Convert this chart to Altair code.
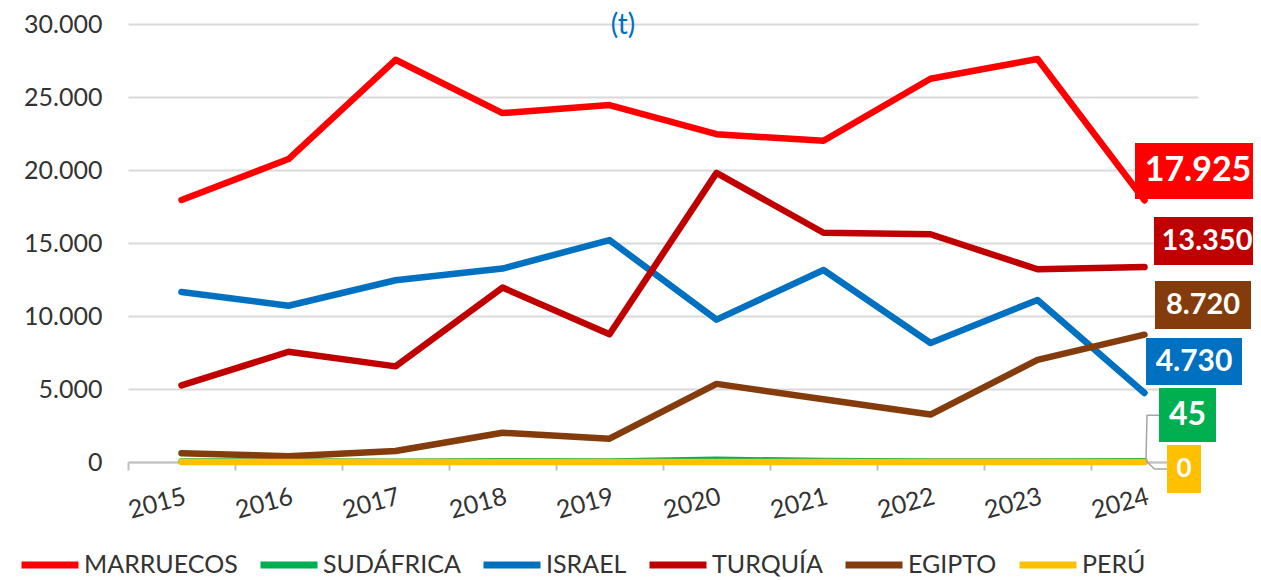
import altair as alt
import pandas as pd

years = [2015, 2016, 2017, 2018, 2019, 2020, 2021, 2022, 2023, 2024]
series = ["MARRUECOS", "SUDÁFRICA", "ISRAEL", "TURQUÍA", "EGIPTO", "PERÚ"]
colors = ["#FF0000", "#00B050", "#0070C0", "#C00000", "#843C0C", "#FFC000"]

marruecos = [17950, 20750, 27550, 23900, 24450, 22450, 22000, 26250, 27600, 17925]
sudafrica = [40, 30, 20, 50, 40, 150, 60, 40, 30, 45]
israel = [11650, 10700, 12450, 13250, 15200, 9750, 13150, 8150, 11100, 4730]
turquia = [5250, 7550, 6550, 11950, 8750, 19800, 15700, 15600, 13200, 13350]
egipto = [600, 400, 750, 2000, 1600, 5350, 4300, 3250, 7000, 8720]
peru = [0, 0, 0, 0, 0, 0, 0, 0, 0, 0]

y_ticks = [0, 5000, 10000, 15000, 20000, 25000, 30000]
unit_text = "(t)"

values = [marruecos, sudafrica, israel, turquia, egipto, peru]
rows = []
for s, vals in zip(series, values):
    for yr, v in zip(years, vals):
        rows.append({"year": yr, "series": s, "value": v})
df = pd.DataFrame(rows)

FONT = "Lato"
W, H = 1070, 438

x_enc = alt.X(
    "year:O",
    bandPosition=0.5,
    scale=alt.Scale(type="band", paddingInner=0, paddingOuter=0),
    axis=alt.Axis(
        title=None, tickBand="extent", domainColor="#bfbfbf", domainWidth=2,
        tickColor="#bfbfbf", tickWidth=2, tickSize=8, labelAngle=345,
        labelAlign="right", labelBaseline="top", labelPadding=14,
        labelFontSize=25, labelFont=FONT, labelColor="#333333", grid=False,
    ),
)
y_enc = alt.Y(
    "value:Q",
    scale=alt.Scale(domain=[0, 30000], nice=False, zero=True),
    axis=alt.Axis(
        title=None, values=y_ticks, domain=False, ticks=False, tickSize=0,
        labelPadding=26, labelFontSize=25, labelFont=FONT, labelColor="#333333",
        labelExpr="replace(format(datum.value, ','), ',', '.')",
        grid=True, gridColor="#d9d9d9", gridWidth=2,
    ),
)

lines = alt.Chart(df).mark_line(strokeWidth=6.5, strokeCap="round", strokeJoin="round").encode(
    x=x_enc,
    y=y_enc,
    color=alt.Color(
        "series:N",
        sort=series,
        scale=alt.Scale(domain=series, range=colors),
        legend=alt.Legend(
            title=None, orient="none", legendX=-110, legendY=509, direction="horizontal",
            columns=6, symbolType="stroke", symbolSize=3249, symbolStrokeWidth=7,
            labelFontSize=25, labelFont=FONT, labelColor="#333333", labelOffset=2,
            columnPadding=8, labelLimit=400,
        ),
    ),
    order=alt.Order("year:O"),
)

# end-label box styles (pixel offsets relative to the 2024 point)
box_style = {
    "MARRUECOS": dict(box=(-9.5, -57.3, 116.5, -1.3), dx=53.5, dy=-29, fs=34),
    "TURQUÍA": dict(box=(9.5, -50, 116.5, -2), dx=62.5, dy=-26, fs=29),
    "EGIPTO": dict(box=(10.5, -53.7, 106.5, -5.7), dx=58.5, dy=-29.7, fs=29),
    "ISRAEL": dict(box=(1.5, -54.9, 97.5, -7.9), dx=49.5, dy=-31.4, fs=30),
    "SUDÁFRICA": dict(box=(14.5, -73.3, 71.5, -19.3), dx=43, dy=-46.3, fs=32),
    "PERÚ": dict(box=(22.5, -17, 56.5, 31), dx=39.5, dy=7, fs=26),
}
leaders = {
    "SUDÁFRICA": "M1.5,-1L2.5,-46L14.5,-46",
    "PERÚ": "M1.5,-1L10,7L22.5,7",
}

last = pd.DataFrame([
    {"year": years[-1], "series": s, "value": vals[-1],
     "label": f"{vals[-1]:,}".replace(",", ".")}
    for s, vals in zip(series, values)
])

layers = [lines]
for s, c in zip(series, colors):
    st = box_style[s]
    x0, y0, x1, y1 = st["box"]
    path = f"M{x0},{y0}L{x1},{y0}L{x1},{y1}L{x0},{y1}Z"
    sub = last[last["series"] == s]
    if s in leaders:
        layers.append(
            alt.Chart(sub).mark_point(shape=leaders[s], size=4, filled=False,
                                      stroke="#a6a6a6", strokeWidth=1.5, opacity=1)
            .encode(x=x_enc, y=y_enc)
        )
    layers.append(
        alt.Chart(sub).mark_point(shape=path, size=4, filled=True, fill=c,
                                  strokeWidth=0, opacity=1)
        .encode(x=x_enc, y=y_enc)
    )
    layers.append(
        alt.Chart(sub).mark_text(dx=st["dx"], dy=st["dy"], fontSize=st["fs"],
                                 fontWeight="bold", font=FONT, color="white",
                                 align="center", baseline="middle")
        .encode(x=x_enc, y=y_enc, text="label:N")
    )

title = alt.Chart(pd.DataFrame({"t": [unit_text]})).mark_text(
    fontSize=28, font=FONT, color="#0070C0", align="center", baseline="middle"
).encode(x=alt.value(495), y=alt.value(2), text="t:N")
layers.append(title)

chart = alt.layer(*layers).properties(
    width=W, height=H,
    background="white",
    autosize=alt.AutoSizeParams(type="none"),
    padding={"left": 120, "top": 16, "right": 55, "bottom": 118},
).configure_view(strokeOpacity=0, strokeWidth=0)

chart.save("out.html", embed_options={"renderer": "svg", "actions": False})
